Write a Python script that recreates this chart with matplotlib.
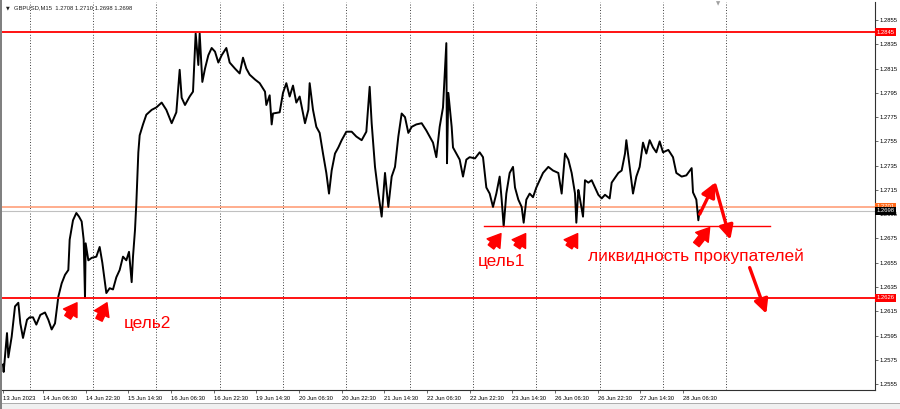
import matplotlib
matplotlib.use("Agg")
import matplotlib.pyplot as plt
import matplotlib.transforms as mtransforms
from matplotlib.patches import Rectangle

# GBPUSD M15, path (bar index, price)
bar_index = [
    0, 1, 6, 8, 13, 18, 23, 26, 30, 36,
    40, 45, 50, 56, 63, 68, 73, 78, 83, 88,
    93, 98, 100, 105, 110, 114, 118, 121, 123, 124,
    128, 133, 140, 145, 149, 153, 155, 160, 165, 170,
    175, 180, 185, 189, 193, 195, 198, 200, 203, 205,
    210, 215, 223, 230, 238, 245, 253, 260, 265, 268,
    273, 280, 285, 289, 293, 295, 299, 303, 308, 313,
    318, 323, 328, 335, 340, 348, 355, 360, 365, 370,
    378, 385, 393, 395, 400, 403, 405, 415, 420, 425,
    430, 435, 440, 445, 453, 458, 460, 465, 470, 475,
    480, 485, 489, 493, 498, 503, 508, 515, 523, 530,
    538, 545, 550, 553, 558, 563, 568, 573, 578, 583,
    588, 593, 598, 603, 608, 613, 620, 628, 635, 640,
    645, 650, 655, 660, 665, 666, 668, 673, 675, 680,
    685, 690, 695, 700, 708, 715, 720, 725, 730, 735,
    740, 745, 748, 751, 755, 760, 765, 768, 773, 778,
    781, 785, 790, 795, 800, 805, 810, 818, 825, 833,
    838, 843, 848, 853, 858, 860, 863, 865, 870, 873,
    878, 883, 888, 893, 898, 903, 910, 913, 918, 923,
    928, 933, 935, 940, 945, 950, 955, 960, 965, 970,
    975, 980, 985, 990, 998, 1005, 1010, 1018, 1025, 1033,
    1035, 1040, 1043, 1045,
]
price_path = [
    1.2571, 1.2565, 1.2597, 1.2577, 1.2594, 1.2619, 1.2622, 1.2605, 1.2593, 1.2608,
    1.2610, 1.2610, 1.2604, 1.2612, 1.2614, 1.2608, 1.2600, 1.2605, 1.2627, 1.2638,
    1.2645, 1.2649, 1.2674, 1.2690, 1.2696, 1.2693, 1.2689, 1.2674, 1.2626, 1.2671,
    1.2657, 1.2659, 1.2660, 1.2668, 1.2655, 1.2638, 1.2630, 1.2634, 1.2633, 1.2643,
    1.2649, 1.2660, 1.2657, 1.2664, 1.2639, 1.2660, 1.2682, 1.2704, 1.2746, 1.2760,
    1.2769, 1.2777, 1.2781, 1.2783, 1.2787, 1.2781, 1.2770, 1.2779, 1.2814, 1.2791,
    1.2785, 1.2792, 1.2796, 1.2844, 1.2818, 1.2844, 1.2804, 1.2815, 1.2826, 1.2832,
    1.2829, 1.2820, 1.2826, 1.2832, 1.2820, 1.2815, 1.2811, 1.2824, 1.2815, 1.2810,
    1.2806, 1.2803, 1.2796, 1.2785, 1.2793, 1.2769, 1.2778, 1.2779, 1.2795, 1.2803,
    1.2792, 1.2801, 1.2787, 1.2792, 1.2770, 1.2781, 1.2803, 1.2781, 1.2767, 1.2762,
    1.2745, 1.2729, 1.2712, 1.2731, 1.2745, 1.2750, 1.2756, 1.2763, 1.2763, 1.2759,
    1.2756, 1.2763, 1.2800, 1.2770, 1.2734, 1.2712, 1.2693, 1.2729, 1.2701, 1.2726,
    1.2734, 1.2759, 1.2778, 1.2775, 1.2762, 1.2767, 1.2769, 1.2770, 1.2764, 1.2759,
    1.2754, 1.2742, 1.2767, 1.2783, 1.2836, 1.2737, 1.2795, 1.2767, 1.2750, 1.2745,
    1.2740, 1.2726, 1.2740, 1.2742, 1.2741, 1.2746, 1.2742, 1.2717, 1.2712, 1.2701,
    1.2712, 1.2726, 1.2707, 1.2685, 1.2712, 1.2729, 1.2734, 1.2717, 1.2707, 1.2701,
    1.2688, 1.2707, 1.2712, 1.2709, 1.2717, 1.2723, 1.2729, 1.2734, 1.2731, 1.2729,
    1.2712, 1.2745, 1.2740, 1.2729, 1.2712, 1.2688, 1.2715, 1.2709, 1.2693, 1.2723,
    1.2721, 1.2723, 1.2717, 1.2711, 1.2708, 1.2711, 1.2708, 1.2721, 1.2725, 1.2729,
    1.2731, 1.2745, 1.2756, 1.2734, 1.2712, 1.2726, 1.2734, 1.2754, 1.2745, 1.2756,
    1.2750, 1.2746, 1.2755, 1.2746, 1.2748, 1.2742, 1.2729, 1.2726, 1.2727, 1.2733,
    1.2713, 1.2707, 1.2690, 1.2698,
]
assert len(bar_index) == len(price_path)

red_levels = [1.2845, 1.2626]
orange_level = 1.2701
bid_price = 1.2698
liquidity_level = 1.2685
liquidity_bars = [722, 1150]

price_ticks = [1.2855, 1.2835, 1.2815, 1.2795, 1.2775, 1.2755, 1.2735, 1.2715,
               1.2695, 1.2675, 1.2655, 1.2635, 1.2615, 1.2595, 1.2575, 1.2555]
time_tick_bars = [0, 60, 124, 188, 252, 316, 380, 444, 508, 572, 636, 700,
                  764, 828, 892, 956, 1020]
time_tick_labels = ["13 Jun 2023", "14 Jun 06:30", "14 Jun 22:30", "15 Jun 14:30",
                    "16 Jun 06:30", "16 Jun 22:30", "19 Jun 14:30", "20 Jun 06:30",
                    "20 Jun 22:30", "21 Jun 14:30", "22 Jun 06:30", "22 Jun 22:30",
                    "23 Jun 14:30", "26 Jun 06:30", "26 Jun 22:30", "27 Jun 14:30",
                    "28 Jun 06:30"]
grid_bars = [40, 135, 230, 325, 420, 515, 610, 705, 800, 895, 990, 1085]

RED = "#ff0000"

fig = plt.figure(figsize=(9, 4.09), dpi=100)
ax = fig.add_axes([2 / 900, 1 - 390 / 409, 873 / 900, 388 / 409])
ax.set_xlim(-1.5, 1308)
ax.set_ylim(1.25501, 1.28699)

for gx in grid_bars:
    ax.axvline(gx, color="black", lw=0.55, ls=(0, (1.2, 2.4)), zorder=1)

ax.plot(bar_index, price_path, color="black", lw=1.4, zorder=3)

for lvl in red_levels:
    ax.axhline(lvl, color=RED, lw=1.3, zorder=4)
ax.axhline(orange_level, color="#ffa07a", lw=1.2, zorder=2)
ax.axhline(bid_price, color="#c0c0c0", lw=0.8, zorder=2)
ax.plot(liquidity_bars, [liquidity_level, liquidity_level], color=RED, lw=1.0, zorder=4)

# block arrows pointing at the lows
for tail, tip in [((97, 1.2610), (111, 1.2622)), ((144, 1.2608), (156, 1.2622)),
                  ((732, 1.2668), (747, 1.2679)), ((771, 1.2668), (784, 1.2679)),
                  ((849, 1.2668), (862, 1.2679)), ((1040, 1.2670), (1060, 1.2684))]:
    ax.annotate("", xy=tip, xytext=tail, zorder=5,
                arrowprops=dict(arrowstyle="simple,head_width=1.15,head_length=0.9,tail_width=0.5",
                                color=RED, shrinkA=0, shrinkB=0, mutation_scale=10))

# scenario arrows
for tail, tip in [((1045, 1.2695), (1068, 1.2721)), ((1068, 1.2719), (1091, 1.2674)),
                  ((1120, 1.2651), (1145, 1.2613))]:
    ax.annotate("", xy=tip, xytext=tail, zorder=5,
                arrowprops=dict(arrowstyle="-|>,head_width=0.35,head_length=0.7",
                                color=RED, lw=2.4, shrinkA=0, shrinkB=0, mutation_scale=12))

ax.text(217, 1.2605, "цель2", color=RED, fontsize=12.4, family="Liberation Sans",
        ha="center", va="center", zorder=6)
ax.text(748, 1.2656, "цель1", color=RED, fontsize=12.4, family="Liberation Sans",
        ha="center", va="center", zorder=6)
ax.text(1040, 1.2660, "ликвидность прокупателей", color=RED, fontsize=12.4,
        family="Liberation Sans", ha="center", va="center", zorder=6)

# axes like the terminal
for side in ["top", "left"]:
    ax.spines[side].set_visible(False)
for side in ["right", "bottom"]:
    ax.spines[side].set_color("#303030")
    ax.spines[side].set_linewidth(0.8)
ax.yaxis.tick_right()
ax.set_yticks(price_ticks)
ax.set_yticklabels([f"{p:.4f}" for p in price_ticks])
ax.set_xticks(time_tick_bars)
ax.set_xticklabels(time_tick_labels, ha="left")
ax.tick_params(axis="both", labelsize=4.2, length=2.5, width=0.5, color="#303030", pad=1)
ax.tick_params(axis="x", pad=2)
for lbl in ax.get_xticklabels() + ax.get_yticklabels():
    lbl.set_family("Liberation Sans")

trans = mtransforms.blended_transform_factory(ax.transAxes, ax.transData)
for price, face in [(red_levels[0], RED), (red_levels[1], RED),
                    (orange_level, "#ff6a1a"), (bid_price, "black")]:
    ax.text(1.002, price, f"{price:.4f}", transform=trans, ha="left", va="center",
            color="white", fontsize=4.2, family="Liberation Sans", zorder=10, clip_on=False,
            bbox=dict(boxstyle="square,pad=0.25", fc=face, ec="none"))

fig.text(14 / 900, 1 - 8 / 409, "GBPUSD,M15  1.2708 1.2710 1.2698 1.2698", fontsize=4.2,
         family="Liberation Sans", va="center", color="#202020")
fig.text(6 / 900, 1 - 8 / 409, "▼", fontsize=3.5, va="center", color="#202020")
fig.text(718 / 900, 1 - 4 / 409, "▼", fontsize=4, va="center", ha="center", color="#a0a0a0")

fig.patches.append(Rectangle((0, 0), 1, 6 / 409, transform=fig.transFigure,
                             facecolor="#f0f0f0", edgecolor="#a0a0a0", lw=0.6))
fig.patches.append(Rectangle((0, 0), 1.5 / 900, 1, transform=fig.transFigure,
                             facecolor="#808080", edgecolor="none"))

fig.savefig("out.png", dpi=100, facecolor="white")
